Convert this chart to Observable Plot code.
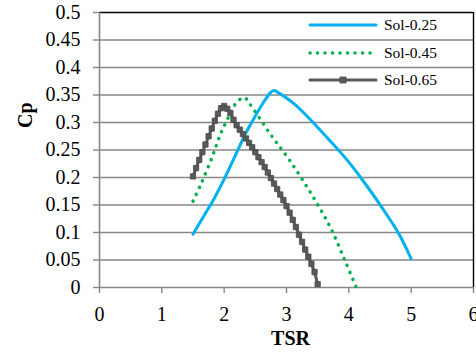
<!DOCTYPE html>
<html><head><meta charset="utf-8">
<script src="https://cdn.jsdelivr.net/npm/d3@7"></script>
<script src="https://cdn.jsdelivr.net/npm/@observablehq/plot@0.6"></script>
<style>
body{margin:0;background:#fff;}
#wrap{position:relative;width:476px;height:358px;overflow:hidden;font-family:"Liberation Serif","Times New Roman",Times,serif;}
#wrap svg text{font-family:"Liberation Serif","Times New Roman",Times,serif !important;}
.leg{position:absolute;left:308px;font-size:15.5px;color:#000;display:flex;align-items:center;}
.leg svg{margin-right:6px;}
</style></head><body>
<div id="wrap"></div>
<script>
const seriesNames = ["Sol-0.25", "Sol-0.45", "Sol-0.65"];
const xTicks = [0, 1, 2, 3, 4, 5, 6];
const yTicks = [0, 0.05, 0.1, 0.15, 0.2, 0.25, 0.3, 0.35, 0.4, 0.45, 0.5];

const tsr25 = [1.5, 1.7, 1.84, 2.0, 2.2, 2.34, 2.5, 2.65, 2.75, 2.8, 2.9, 3.1, 3.3, 3.55, 3.84, 4.0, 4.19, 4.51, 4.8, 5.0];
const cp25  = [0.097, 0.135, 0.162, 0.197, 0.245, 0.279, 0.312, 0.340, 0.355, 0.358, 0.352, 0.336, 0.315, 0.285, 0.249, 0.228, 0.200, 0.149, 0.098, 0.052];

const tsr45 = [1.5, 1.62, 1.81, 1.94, 2.05, 2.13, 2.24, 2.33, 2.41, 2.74, 3.07, 3.41, 3.7, 3.93, 4.12];
const cp45  = [0.157, 0.186, 0.238, 0.279, 0.305, 0.325, 0.341, 0.345, 0.334, 0.279, 0.228, 0.168, 0.110, 0.051, 0.0];

const tsr65 = [1.5, 1.55, 1.6, 1.65, 1.7, 1.75, 1.8, 1.85, 1.9, 1.95, 2.0, 2.05, 2.1, 2.15, 2.2, 2.25, 2.3, 2.35, 2.4, 2.45, 2.5, 2.55, 2.6, 2.65, 2.7, 2.75, 2.8, 2.85, 2.9, 2.95, 3.0, 3.05, 3.1, 3.15, 3.2, 3.25, 3.3, 3.35, 3.4, 3.45, 3.5];
const cp65  = [0.202, 0.217, 0.232, 0.246, 0.260, 0.275, 0.289, 0.303, 0.316, 0.326, 0.330, 0.325, 0.317, 0.305, 0.295, 0.287, 0.279, 0.271, 0.263, 0.255, 0.246, 0.237, 0.228, 0.219, 0.209, 0.199, 0.189, 0.179, 0.169, 0.159, 0.148, 0.136, 0.123, 0.110, 0.096, 0.083, 0.069, 0.056, 0.043, 0.028, 0.006];

const colors = ["#00B0F0", "#00B050", "#595959"];

const d25 = tsr25.map((x, i) => ({x, y: cp25[i]}));
const d45 = tsr45.map((x, i) => ({x, y: cp45[i]}));
const d65 = tsr65.map((x, i) => ({x, y: cp65[i]}));

const fmt = d => String(+d.toFixed(2));

const chart = Plot.plot({
  width: 476, height: 358,
  marginLeft: 99, marginRight: 3, marginTop: 12, marginBottom: 71,
  style: {fontFamily: '"Liberation Serif","Times New Roman",serif', fontSize: "20px", color: "#000", background: "#fff"},
  x: {domain: [0, 6]},
  y: {domain: [0, 0.5]},
  marks: [
    Plot.ruleY(yTicks.filter(d => d > 0 && d < 0.5), {stroke: "#878787", strokeWidth: 1.4}),
    Plot.ruleY([0.5], {stroke: "#000", strokeWidth: 1.4}),
    Plot.ruleX([6], {stroke: "#000", strokeWidth: 1.4}),
    Plot.axisY({ticks: yTicks, tickFormat: () => "", tickSize: 6, stroke: "#878787", strokeWidth: 1.4, label: null}),
    Plot.axisX({ticks: xTicks, tickFormat: () => "", tickSize: 6, stroke: "#878787", strokeWidth: 1.4, label: null}),
    Plot.text(yTicks, {y: d => d, text: fmt, frameAnchor: "left", dx: -19, textAnchor: "end", fontSize: 20, fill: "#000"}),
    Plot.text(xTicks, {x: d => d, text: d => String(d), frameAnchor: "bottom", dy: 33, fontSize: 20, fill: "#000"}),
    Plot.ruleX([0], {stroke: "#878787", strokeWidth: 1.6}),
    Plot.ruleY([0], {stroke: "#878787", strokeWidth: 1.6}),
    Plot.line(d25, {x: "x", y: "y", stroke: colors[0], strokeWidth: 3, curve: "catmull-rom"}),
    Plot.line(d45, {x: "x", y: "y", stroke: colors[1], strokeWidth: 3.5, strokeDasharray: "0.1,7.4", strokeLinecap: "round", curve: "catmull-rom"}),
    Plot.line(d65, {x: "x", y: "y", stroke: colors[2], strokeWidth: 3}),
    Plot.dot(d65, {x: "x", y: "y", symbol: "square", r: 3, fill: colors[2], stroke: "#4a4a4a", strokeWidth: 0.8}),
    Plot.text(["Cp"], {frameAnchor: "left", dx: -74, dy: -22, rotate: -90, fontWeight: "bold", fontSize: 20}),
    Plot.text(["TSR"], {frameAnchor: "bottom", dx: 4, dy: 57, fontWeight: "bold", fontSize: 20})
  ]
});
const wrap = document.getElementById("wrap");
wrap.appendChild(chart);

const rowsY = [25, 53, 80];
seriesNames.forEach((name, i) => {
  const div = document.createElement("div");
  div.className = "leg";
  div.style.top = (rowsY[i] - 10) + "px";
  const ns = "http://www.w3.org/2000/svg";
  const s = document.createElementNS(ns, "svg");
  s.setAttribute("width", "70"); s.setAttribute("height", "20");
  const ln = document.createElementNS(ns, "line");
  ln.setAttribute("x1", "2"); ln.setAttribute("x2", "68"); ln.setAttribute("y1", "10"); ln.setAttribute("y2", "10");
  ln.setAttribute("stroke", colors[i]);
  if (i === 0) { ln.setAttribute("stroke-width", "3"); ln.setAttribute("stroke-linecap", "round"); }
  if (i === 1) { ln.setAttribute("stroke-width", "3.5"); ln.setAttribute("stroke-dasharray", "0.1,7.4"); ln.setAttribute("stroke-linecap", "round"); }
  if (i === 2) { ln.setAttribute("stroke-width", "3"); ln.setAttribute("stroke-linecap", "round"); }
  s.appendChild(ln);
  if (i === 2) {
    const r = document.createElementNS(ns, "rect");
    r.setAttribute("x", "32"); r.setAttribute("y", "7"); r.setAttribute("width", "6"); r.setAttribute("height", "6");
    r.setAttribute("fill", colors[2]); r.setAttribute("stroke", "#4a4a4a"); r.setAttribute("stroke-width", "0.8");
    s.appendChild(r);
  }
  div.appendChild(s);
  const t = document.createElement("span");
  t.textContent = name;
  div.appendChild(t);
  wrap.appendChild(div);
});
</script>
</body></html>
